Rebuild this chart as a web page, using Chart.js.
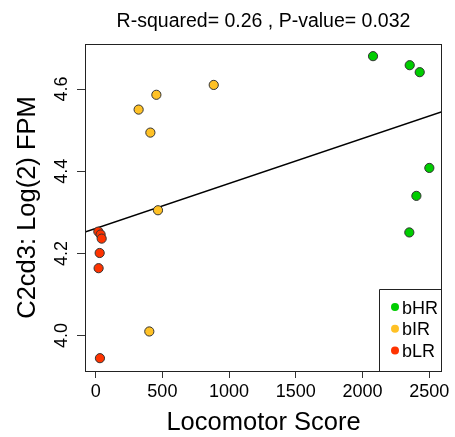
<!DOCTYPE html>
<html>
<head>
<meta charset="utf-8">
<script src="https://cdn.jsdelivr.net/npm/chart.js@4"></script>
<style>
  html, body { margin: 0; padding: 0; background: #fff; }
  #wrap { width: 455px; height: 437px; }
</style>
</head>
<body>
<div id="wrap"><canvas id="chart" width="455" height="437"></canvas></div>
<script>
// values
const hrX = [2079, 2354, 2429, 2501, 2404, 2351];
const hrY = [4.680, 4.658, 4.641, 4.408, 4.340, 4.251];
const irX = [322, 455, 885, 410, 467, 402];
const irY = [4.550, 4.586, 4.610, 4.494, 4.305, 4.010];
const lrX = [20, 37, 45, 30, 22, 32];
const lrY = [4.253, 4.246, 4.236, 4.201, 4.164, 3.945];
const fitX = [-80, 2596];
const fitY = [4.252, 4.545];

const xTicks = [0, 500, 1000, 1500, 2000, 2500];
const yTicks = [4.0, 4.2, 4.4, 4.6];

const groups = ["bHR", "bIR", "bLR"];
const groupColors = ["#00CD00", "#FFC125", "#FF3300"];
const titleText = "R-squared= 0.26 , P-value= 0.032";
const xTitle = "Locomotor Score";
const yTitle = "C2cd3: Log(2) FPM";

const FONT = "'Liberation Sans', Arial, Helvetica, sans-serif";

const pts = (xs, ys) => xs.map((x, i) => ({ x: x, y: ys[i] }));

// R style box, titles, rotated y tick labels and legend
const rStyle = {
  id: 'rStyle',
  afterDraw(chart) {
    const ctx = chart.ctx;
    const a = chart.chartArea;
    const ys = chart.scales.y;
    ctx.save();

    ctx.strokeStyle = '#222';
    ctx.lineWidth = 1;
    ctx.strokeRect(a.left + 0.5, a.top + 0.5, a.right - a.left - 1, a.bottom - a.top);

    ctx.fillStyle = '#000';
    ctx.textBaseline = 'alphabetic';

    // y tick labels, vertical like R
    ctx.font = '18px ' + FONT;
    ctx.textAlign = 'center';
    ys.ticks.forEach(t => {
      const py = ys.getPixelForValue(t.value);
      ctx.save();
      ctx.translate(a.left - 18.5, py);
      ctx.rotate(-Math.PI / 2);
      ctx.fillText(t.value.toFixed(1), 0, 0);
      ctx.restore();
    });

    // main title
    ctx.font = '19.5px ' + FONT;
    ctx.fillText(titleText, (a.left + a.right) / 2, 26.5);

    // axis titles
    ctx.font = '25.5px ' + FONT;
    ctx.fillText(xTitle, (a.left + a.right) / 2, 429.5);
    ctx.save();
    ctx.translate(35, (a.top + a.bottom) / 2);
    ctx.rotate(-Math.PI / 2);
    ctx.fillText(yTitle, 0, 0);
    ctx.restore();

    // legend box in the bottom right corner
    const lx = a.right - 63, ly = a.bottom - 82;
    ctx.beginPath();
    ctx.moveTo(lx + 0.5, a.bottom);
    ctx.lineTo(lx + 0.5, ly + 0.5);
    ctx.lineTo(a.right, ly + 0.5);
    ctx.stroke();
    ctx.font = '18px ' + FONT;
    ctx.textAlign = 'left';
    groups.forEach((g, i) => {
      const cy = ly + 18 + i * 21.7;
      ctx.fillStyle = groupColors[i];
      ctx.beginPath();
      ctx.arc(lx + 16, cy, 4, 0, Math.PI * 2);
      ctx.fill();
      ctx.fillStyle = '#000';
      ctx.fillText(g, lx + 23, cy + 6.5);
    });

    ctx.restore();
  }
};

const pointStyle = (i) => ({
  backgroundColor: groupColors[i],
  borderColor: '#333',
  borderWidth: 1,
  pointRadius: 4.6,
  order: 1
});

new Chart(document.getElementById('chart').getContext('2d'), {
  type: 'scatter',
  data: {
    datasets: [
      {
        type: 'line',
        label: 'fit',
        data: pts(fitX, fitY),
        borderColor: '#000',
        borderWidth: 1.5,
        pointRadius: 0,
        fill: false,
        order: 10
      },
      Object.assign({ label: groups[0], data: pts(hrX, hrY) }, pointStyle(0)),
      Object.assign({ label: groups[1], data: pts(irX, irY) }, pointStyle(1)),
      Object.assign({ label: groups[2], data: pts(lrX, lrY) }, pointStyle(2))
    ]
  },
  options: {
    responsive: false,
    animation: false,
    devicePixelRatio: 1,
    layout: { padding: { top: 44, right: 13, left: 0, bottom: 0 } },
    plugins: {
      legend: { display: false },
      tooltip: { enabled: false },
      title: { display: false }
    },
    scales: {
      x: {
        type: 'linear',
        min: -80,
        max: 2596,
        afterFit: (s) => { s.height = 66; },
        afterBuildTicks: (s) => { s.ticks = xTicks.map(v => ({ value: v })); },
        border: { display: false },
        grid: { drawOnChartArea: false, tickLength: 7, color: '#333', tickColor: '#333' },
        ticks: {
          padding: 3,
          color: '#000',
          font: { size: 18, family: FONT },
          maxRotation: 0,
          autoSkip: false,
          callback: (v) => String(v)
        }
      },
      y: {
        type: 'linear',
        min: 3.9138,
        max: 4.7096,
        afterFit: (s) => { s.width = 85; },
        afterBuildTicks: (s) => { s.ticks = yTicks.map(v => ({ value: v })); },
        border: { display: false },
        grid: { drawOnChartArea: false, tickLength: 8, color: '#333', tickColor: '#333' },
        ticks: {
          display: false
        }
      }
    }
  },
  plugins: [rStyle]
});
</script>
</body>
</html>
